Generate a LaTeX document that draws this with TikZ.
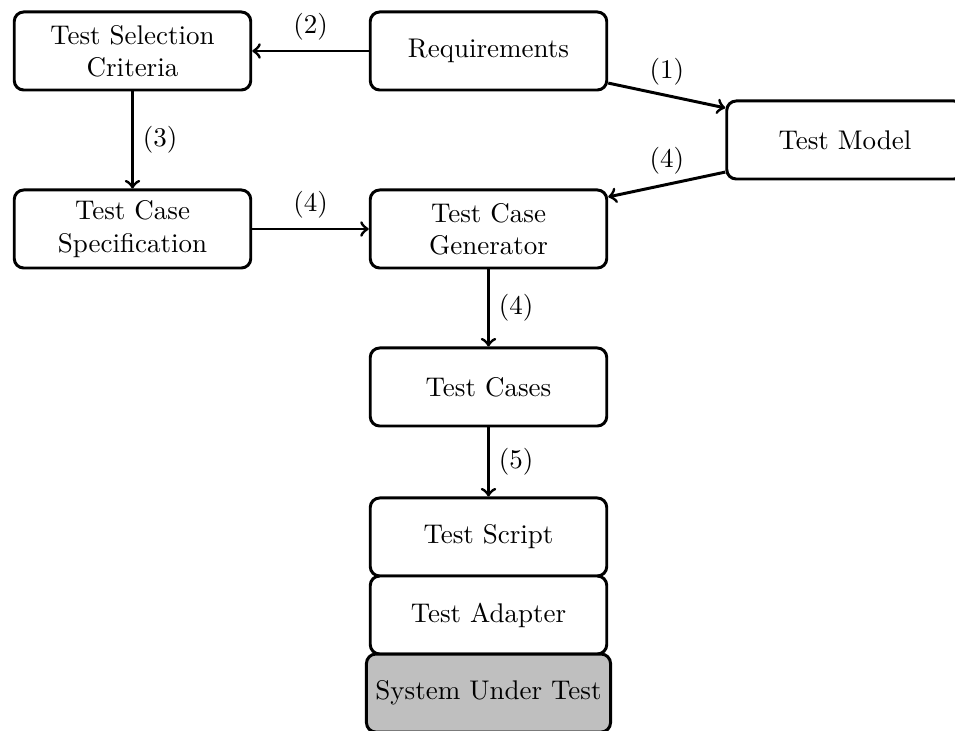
\documentclass[tikz,border=0pt]{standalone}
\usetikzlibrary{positioning}
\begin{document}
\begin{tikzpicture}[x=0.37037pt,y=-0.37037pt,
  box/.style={draw, line width=1.1pt, rounded corners=3.5pt,
    minimum width=87.6pt, minimum height=28.9pt, align=center, fill=white},
  flow/.style={->, line width=1.1pt}]
% visible area of the diagram
\clip (0,0) rectangle (955,731);

% process boxes
\node[box] (tsc) at (132.5,51) {Test Selection\\Criteria};
\node[box] (req) at (488.5,51) {Requirements};
\node[box] (tm)  at (845,140) {Test Model};
\node[box] (tcs) at (132.5,229) {Test Case\\Specification};
\node[box] (tcg) at (488.5,229) {Test Case\\Generator};
\node[box] (tc)  at (488.5,387) {Test Cases};
\node[box] (ts)  at (488.5,537) {Test Script};
% stacked boxes share their border line
\node[box, below=-1.1pt of ts] (ta) {Test Adapter};
\node[box, fill=gray!50, below=-1.1pt of ta] (sut) {System Under Test};

% flow between the steps
\draw[flow] (req) -- node[above] {(2)} (tsc);
\draw[flow] (req.-15) -- node[above] {(1)} (tm.165);
\draw[flow] (tm.195) -- node[above] {(4)} (tcg.15);
\draw[flow] (tsc) -- node[right] {(3)} (tcs);
\draw[flow] (tcs) -- node[above] {(4)} (tcg);
\draw[flow] (tcg) -- node[right] {(4)} (tc);
\draw[flow] (tc) -- node[right] {(5)} (ts);
\end{tikzpicture}
\end{document}
